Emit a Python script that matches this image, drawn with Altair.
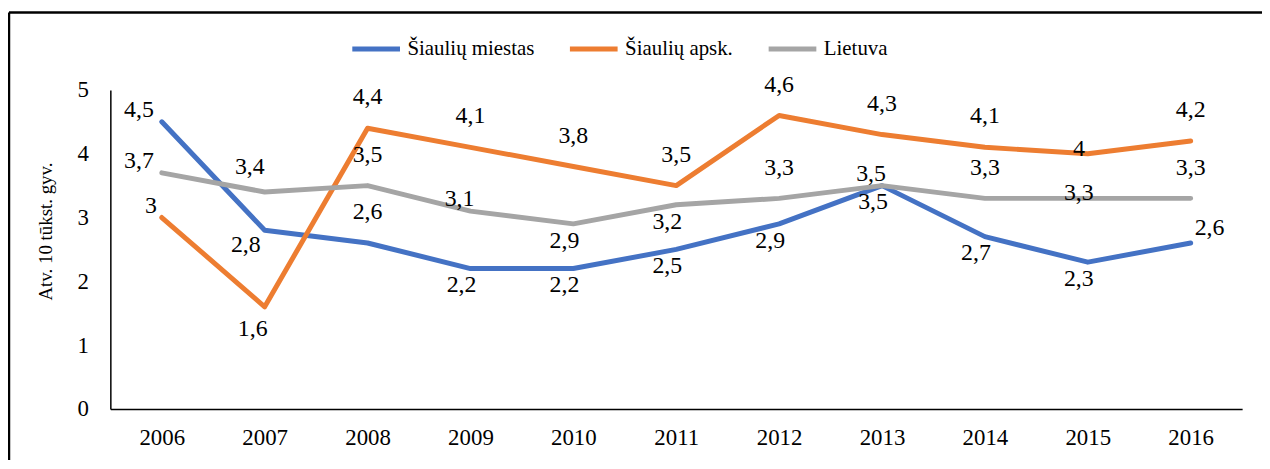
import altair as alt
import pandas as pd

years = ["2006", "2007", "2008", "2009", "2010", "2011", "2012", "2013", "2014", "2015", "2016"]
series_names = ["Šiaulių miestas", "Šiaulių apsk.", "Lietuva"]
miestas = [4.5, 2.8, 2.6, 2.2, 2.2, 2.5, 2.9, 3.5, 2.7, 2.3, 2.6]
apsk = [3, 1.6, 4.4, 4.1, 3.8, 3.5, 4.6, 4.3, 4.1, 4, 4.2]
lietuva = [3.7, 3.4, 3.5, 3.1, 2.9, 3.2, 3.3, 3.5, 3.3, 3.3, 3.3]
colors = ["#4472C4", "#ED7D31", "#A5A5A5"]

# label placement codes (like Excel's data-label position)
pos_miestas = ["f", "bl", "a", "b", "b", "b", "b", "b", "b", "b", "r"]
pos_apsk = ["l", "bb", "a", "a", "a", "a", "a", "a", "a", "c", "a"]
pos_lietuva = ["f", "u", "a", "l", "b", "b", "a", "l", "a", "c", "a"]

placements = {
    "a": (0, -31),
    "b": (-9, 17),
    "bl": (-19, 15),
    "bb": (-12, 22),
    "l": (-11, -12),
    "c": (-9, -5),
    "f": (-23, -12),
    "r": (19, -15),
    "u": (-15, -25),
}

rows = []
for name, vals, poss in zip(series_names, [miestas, apsk, lietuva], [pos_miestas, pos_apsk, pos_lietuva]):
    for y, v, p in zip(years, vals, poss):
        rows.append({"year": y, "series": name, "value": v,
                     "label": f"{v:g}".replace(".", ","), "pos": p})
df = pd.DataFrame(rows)

FONT = "'Liberation Serif', 'Times New Roman', Times, serif"

x_enc = alt.X("year:N", sort=years, title=None,
              scale=alt.Scale(type="point", padding=0.5),
              axis=alt.Axis(labelAngle=0, labelFontSize=23, labelFont=FONT, labelColor="black",
                            ticks=False, labelPadding=18, domainColor="black", domainWidth=1.5,
                            grid=False))
y_enc = alt.Y("value:Q", title="Atv. 10 tūkst. gyv.",
              scale=alt.Scale(domain=[0, 5], nice=False),
              axis=alt.Axis(values=[0, 1, 2, 3, 4, 5], format="d", labelFontSize=23, labelFont=FONT,
                            labelColor="black", ticks=False, labelPadding=22, domainColor="black",
                            domainWidth=1.5, grid=False, titleFont=FONT, titleFontSize=19,
                            titleFontWeight="normal", titleColor="black", titleX=-55, titleY=142))

color_enc = alt.Color("series:N", sort=series_names,
                      scale=alt.Scale(domain=series_names, range=colors),
                      legend=alt.Legend(title=None, orient="none", legendX=241, legendY=-68,
                                        direction="horizontal", columns=3, symbolType="stroke",
                                        symbolSize=2304, symbolStrokeWidth=5, labelFont=FONT,
                                        labelFontSize=21, labelColor="black", labelOffset=5,
                                        columnPadding=25, padding=0))

base = alt.Chart(df)

lines = base.mark_line(strokeWidth=5, strokeCap="round", strokeJoin="round").encode(
    x=x_enc, y=y_enc, color=color_enc, detail="series:N")

layers = [lines]
for code, (dx, dy) in placements.items():
    layers.append(
        base.transform_filter(alt.datum.pos == code).mark_text(
            font=FONT, fontSize=24, color="black", dx=dx, dy=dy, align="center", baseline="middle"
        ).encode(x=alt.X("year:N", sort=years), y=alt.Y("value:Q"), text="label:N")
    )

frame_df = pd.DataFrame({"k": [0]})
frame_left = alt.Chart(frame_df).mark_rule(color="black", strokeWidth=2.5).encode(
    x=alt.value(-102), y=alt.value(-78), y2=alt.value(380))
frame_top = alt.Chart(frame_df).mark_rule(color="black", strokeWidth=2.5).encode(
    x=alt.value(-102), x2=alt.value(1160), y=alt.value(-78))

chart = alt.layer(*layers, frame_left, frame_top).properties(
    width=1139, height=321,
    padding={"left": 103, "top": 81, "right": 20, "bottom": 50},
    autosize="none",
).configure(background="white", font=FONT).configure_view(stroke=None).configure_text(
    font=FONT).configure_axis(labelFont=FONT, titleFont=FONT).configure_legend(labelFont=FONT)

chart.save("out.html", embed_options={"renderer": "svg", "actions": False})
